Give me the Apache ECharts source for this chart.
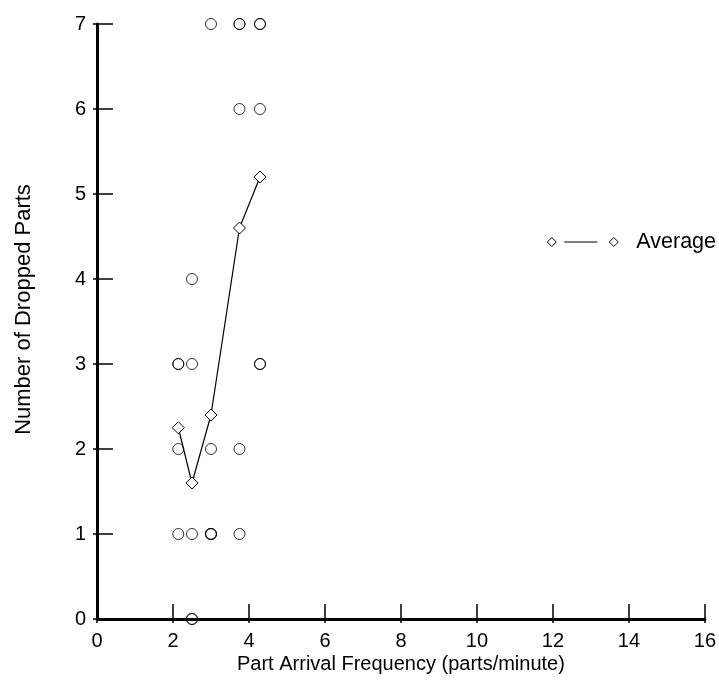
<!DOCTYPE html>
<html>
<head>
<meta charset="utf-8">
<script src="https://cdn.jsdelivr.net/npm/echarts@6/dist/echarts.min.js"></script>
<style>
  html, body { margin: 0; padding: 0; background: #fff; }
  #chart { width: 719px; height: 681px; }
</style>
</head>
<body>
<div id="chart"></div>
<script>
// arrival frequencies (parts/minute)
var frequencies = [2.14, 2.5, 3.0, 3.75, 4.29];
// dropped parts per run, one list per frequency
var dropsRuns = [
  [3, 3, 2, 1],
  [4, 3, 1, 0, 0],
  [7, 2, 1, 1, 1],
  [7, 7, 6, 2, 1],
  [7, 7, 6, 3, 3]
];
// average dropped parts per frequency
var averages = [2.25, 1.6, 2.4, 4.6, 5.2];
var xTicks = [0, 2, 4, 6, 8, 10, 12, 14, 16];
var yTicks = [0, 1, 2, 3, 4, 5, 6, 7];

var font = "'Liberation Sans', Arial, sans-serif";
var fs = 20;

var runPoints = [];
frequencies.forEach(function (f, i) {
  dropsRuns[i].forEach(function (d) {
    runPoints.push([f, d]);
  });
});
var avgPoints = frequencies.map(function (f, i) { return [f, averages[i]]; });

// outward tick stubs on the same axis position
function stubAxis(pos, ticks, step) {
  return {
    type: 'value',
    position: pos,
    min: ticks[0],
    max: ticks[ticks.length - 1],
    interval: step,
    axisLine: { show: false },
    axisTick: { length: 4, lineStyle: { color: '#000', width: 1.5 } },
    axisLabel: { show: false },
    splitLine: { show: false }
  };
}

var myChart = echarts.init(document.getElementById('chart'));
var option = {
  animation: false,
  backgroundColor: '#fff',
  grid: { left: 97, right: 14, top: 24, bottom: 62 },
  legend: {
    right: -2,
    top: 226,
    itemWidth: 71,
    itemHeight: 9,
    symbolKeepAspect: true,
    textStyle: { fontFamily: font, fontSize: 21.5, color: '#000', padding: [0, 0, 0, 13] },
    data: [{
      name: 'Average',
      icon: 'path://M0,4.5 L4.5,0 L9,4.5 L4.5,9 Z M17,4.5 L50,4.5 M62,4.5 L66.5,0 L71,4.5 L66.5,9 Z',
      itemStyle: { color: '#fff', borderColor: '#000', borderWidth: 1 }
    }]
  },
  xAxis: [{
    type: 'value',
    min: xTicks[0],
    max: xTicks[xTicks.length - 1],
    interval: 2,
    name: 'Part Arrival Frequency (parts/minute)',
    nameLocation: 'middle',
    nameGap: 35,
    nameMoveOverlap: false,
    nameTextStyle: { fontFamily: font, fontSize: fs, color: '#000' },
    axisLine: { lineStyle: { color: '#000', width: 3 } },
    axisTick: { inside: true, length: 15, lineStyle: { color: '#000', width: 1.5 } },
    axisLabel: { fontFamily: font, fontSize: fs, color: '#000', margin: 12 },
    splitLine: { show: false }
  }, stubAxis('bottom', xTicks, 2)],
  yAxis: [{
    type: 'value',
    min: yTicks[0],
    max: yTicks[yTicks.length - 1],
    interval: 1,
    name: 'Number of Dropped Parts',
    nameLocation: 'middle',
    nameGap: 62,
    nameMoveOverlap: false,
    nameTextStyle: { fontFamily: font, fontSize: 22, color: '#000', padding: [0, 0, 0, 24] },
    axisLine: { lineStyle: { color: '#000', width: 3 } },
    axisTick: { inside: true, length: 16, lineStyle: { color: '#000', width: 1.5 } },
    axisLabel: { fontFamily: font, fontSize: fs, color: '#000', margin: 11 },
    splitLine: { show: false }
  }, stubAxis('left', yTicks, 1)],
  series: [
    {
      name: 'Runs',
      type: 'scatter',
      symbol: 'circle',
      symbolSize: 11,
      itemStyle: { color: 'rgba(255,255,255,0)', borderColor: '#000', borderWidth: 1 },
      data: runPoints,
      z: 1
    },
    {
      name: 'Average',
      type: 'line',
      symbol: 'diamond',
      symbolSize: 12,
      showAllSymbol: true,
      lineStyle: { color: '#000', width: 1.2 },
      itemStyle: { color: '#fff', borderColor: '#000', borderWidth: 1 },
      data: avgPoints,
      z: 3
    }
  ]
};
myChart.setOption(option);
</script>
</body>
</html>
